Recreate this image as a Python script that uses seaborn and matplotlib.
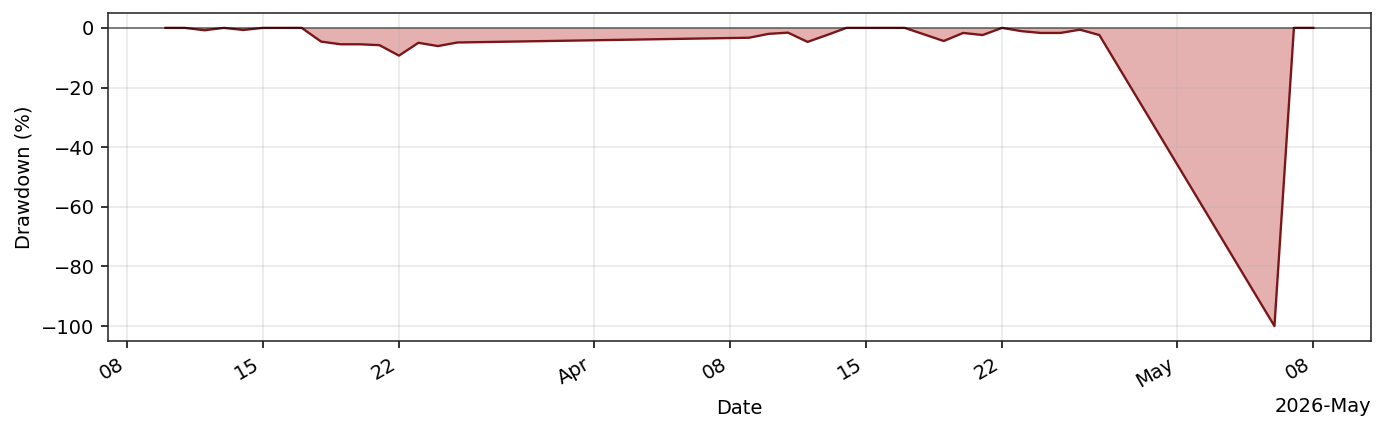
import pandas as pd
import matplotlib
matplotlib.use("Agg")
import matplotlib.pyplot as plt
import matplotlib.dates as mdates
import seaborn as sns

dates = [
    "2026-03-10", "2026-03-11", "2026-03-12", "2026-03-13", "2026-03-14",
    "2026-03-15", "2026-03-16", "2026-03-17", "2026-03-18", "2026-03-19",
    "2026-03-20", "2026-03-21", "2026-03-22", "2026-03-23", "2026-03-24",
    "2026-03-25", "2026-04-09", "2026-04-10", "2026-04-11", "2026-04-12",
    "2026-04-13", "2026-04-14", "2026-04-15", "2026-04-16", "2026-04-17",
    "2026-04-18", "2026-04-19", "2026-04-20", "2026-04-21", "2026-04-22",
    "2026-04-23", "2026-04-24", "2026-04-25", "2026-04-26", "2026-04-27",
    "2026-05-06", "2026-05-07", "2026-05-08",
]
drawdown = [
    0.0, 0.0, -0.8, 0.0, -0.7,
    0.0, 0.0, 0.0, -4.6, -5.5,
    -5.5, -5.8, -9.3, -5.0, -6.1,
    -4.9, -3.3, -2.0, -1.6, -4.7,
    -2.4, 0.0, 0.0, 0.0, 0.0,
    -2.2, -4.4, -1.7, -2.4, 0.0,
    -1.1, -1.7, -1.7, -0.6, -2.4,
    -100.0, 0.0, 0.0,
]

df = pd.DataFrame({"Date": pd.to_datetime(dates), "Drawdown": drawdown})

line_color = "#7a1518"
fill_color = "#c03a3a"

fig, ax = plt.subplots(figsize=(9.9, 3.093), dpi=140)
fig.subplots_adjust(left=0.078, right=0.989, top=0.970, bottom=0.2125)

# shaded area under the drawdown curve
ax.fill_between(df["Date"], df["Drawdown"], 0, color=fill_color, alpha=0.4, linewidth=0)
sns.lineplot(data=df, x="Date", y="Drawdown", color=line_color, linewidth=1.2, ax=ax)
ax.axhline(0, color="black", linewidth=0.8, alpha=0.6)

locator = mdates.AutoDateLocator()
ax.xaxis.set_major_locator(locator)
ax.xaxis.set_major_formatter(mdates.ConciseDateFormatter(locator))
for lbl in ax.get_xticklabels():
    lbl.set_rotation(30)
    lbl.set_ha("right")

ax.grid(True, alpha=0.3)
for sp in ax.spines.values():
    sp.set_color("#222222")
ax.set_xlabel("Date")
ax.set_ylabel("Drawdown (%)")

fig.savefig("out.png", dpi=140)
